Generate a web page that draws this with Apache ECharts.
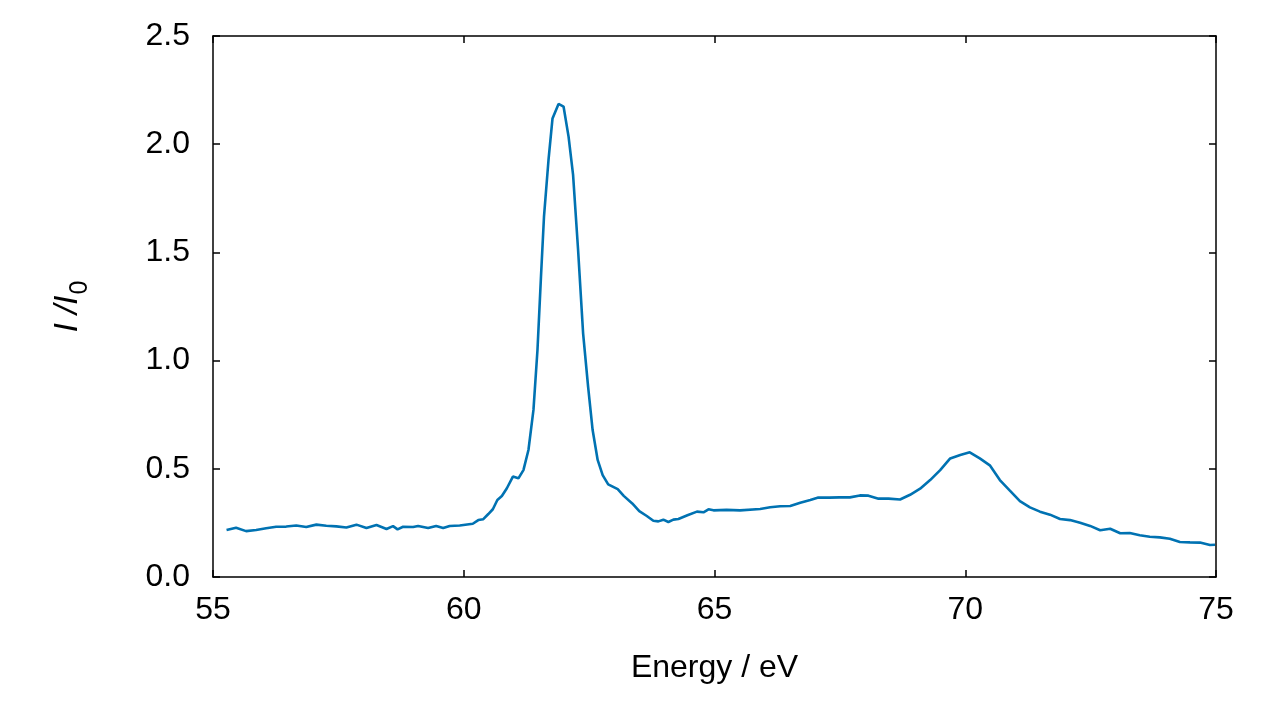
<!DOCTYPE html>
<html>
<head>
<meta charset="utf-8">
<script src="https://cdn.jsdelivr.net/npm/echarts@6/dist/echarts.min.js"></script>
<style>
html,body{margin:0;padding:0;background:#fff;}
#chart{width:1280px;height:720px;}
</style>
</head>
<body>
<div id="chart"></div>
<script>
const energy = [55.27,55.46,55.66,55.86,56.06,56.26,56.46,56.66,56.86,57.06,57.26,57.46,57.66,57.86,58.06,58.26,58.46,58.59,58.68,58.79,58.99,59.09,59.29,59.45,59.59,59.72,59.92,60.18,60.29,60.39,60.49,60.58,60.67,60.76,60.86,60.98,61.09,61.19,61.29,61.39,61.47,61.54,61.60,61.69,61.77,61.89,61.99,62.09,62.18,62.28,62.38,62.48,62.57,62.67,62.77,62.88,63.07,63.19,63.36,63.50,63.65,63.78,63.88,63.98,64.08,64.18,64.28,64.46,64.65,64.78,64.88,64.98,65.24,65.51,65.91,66.11,66.31,66.51,66.71,66.91,67.07,67.29,67.49,67.70,67.90,68.07,68.27,68.47,68.70,68.90,69.10,69.30,69.50,69.70,69.90,70.09,70.29,70.49,70.69,70.89,71.09,71.29,71.49,71.69,71.89,72.09,72.29,72.49,72.69,72.89,73.09,73.28,73.48,73.68,73.88,74.08,74.28,74.48,74.68,74.88,74.98];
const intensity = [0.217,0.228,0.212,0.217,0.225,0.232,0.233,0.238,0.231,0.242,0.237,0.234,0.229,0.242,0.226,0.240,0.222,0.235,0.220,0.232,0.231,0.236,0.226,0.236,0.226,0.236,0.238,0.246,0.263,0.267,0.291,0.313,0.356,0.374,0.410,0.464,0.456,0.494,0.587,0.772,1.049,1.388,1.665,1.927,2.119,2.186,2.174,2.035,1.858,1.511,1.126,0.879,0.679,0.541,0.471,0.428,0.406,0.375,0.340,0.304,0.282,0.260,0.257,0.265,0.254,0.265,0.268,0.285,0.302,0.299,0.313,0.308,0.310,0.308,0.314,0.322,0.327,0.328,0.343,0.356,0.367,0.367,0.368,0.368,0.377,0.376,0.362,0.362,0.358,0.380,0.408,0.448,0.494,0.548,0.564,0.576,0.548,0.516,0.448,0.399,0.351,0.322,0.302,0.288,0.268,0.263,0.251,0.236,0.216,0.223,0.202,0.203,0.193,0.186,0.183,0.177,0.162,0.160,0.159,0.148,0.149];
const xTicks = {min:55, max:75, step:5};
const yTicks = {min:0, max:2.5, step:0.5};
const xTitle = 'Energy / eV';

const FONT = '"Liberation Sans", Arial, sans-serif';
const lineStyle = {color:'#000', width:1.5};
const chart = echarts.init(document.getElementById('chart'));
const pts = energy.map((e,i)=>[e,intensity[i]]);
const baseX = {type:'value', min:xTicks.min, max:xTicks.max, interval:xTicks.step,
  axisLine:{show:true, onZero:false, lineStyle}, axisTick:{show:true, inside:true, length:7, lineStyle},
  splitLine:{show:false}};
const baseY = {type:'value', min:yTicks.min, max:yTicks.max, interval:yTicks.step,
  axisLine:{show:true, onZero:false, lineStyle}, axisTick:{show:true, inside:true, length:7, lineStyle},
  splitLine:{show:false}};
chart.setOption({
  animation:false,
  backgroundColor:'#fff',
  grid:{left:213, right:64, top:36, bottom:143},
  xAxis:[
    Object.assign({}, baseX, {position:'bottom',
      axisLabel:{show:true, color:'#000', fontSize:32, fontFamily:FONT, margin:17},
      name:xTitle, nameLocation:'middle', nameGap:75,
      nameTextStyle:{color:'#000', fontSize:32, fontFamily:FONT}}),
    Object.assign({}, baseX, {position:'top', axisLabel:{show:false}})
  ],
  yAxis:[
    Object.assign({}, baseY, {position:'left',
      axisLabel:{show:true, color:'#000', fontSize:32, fontFamily:FONT, margin:23,
        formatter:v=>v.toFixed(1)},
      name:'{i|I /I}{s|0}', nameLocation:'middle', nameGap:120, nameRotate:90,
      nameTextStyle:{color:'#000', fontSize:32, fontFamily:FONT,
        rich:{i:{fontStyle:'italic', fontSize:33, fontFamily:FONT, color:'#000', verticalAlign:'middle'},
              s:{fontSize:25, fontFamily:FONT, color:'#000', verticalAlign:'bottom', padding:[26,0,0,1]}}}}),
    Object.assign({}, baseY, {position:'right', axisLabel:{show:false}})
  ],
  series:[{
    type:'line', data:pts, xAxisIndex:0, yAxisIndex:0,
    showSymbol:false, symbol:'none',
    lineStyle:{color:'#0072b2', width:2.6},
    clip:true
  }]
});
</script>
</body>
</html>
